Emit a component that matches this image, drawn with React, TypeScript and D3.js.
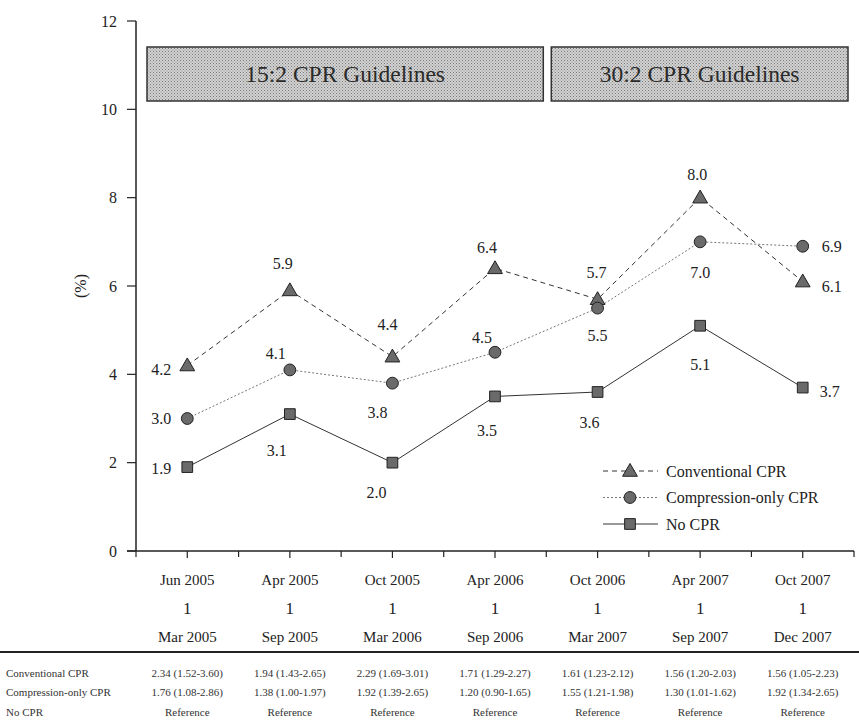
import * as d3 from "d3";

const periodStart = ["Jun 2005", "Apr 2005", "Oct 2005", "Apr 2006", "Oct 2006", "Apr 2007", "Oct 2007"];
const periodEnd = ["Mar 2005", "Sep 2005", "Mar 2006", "Sep 2006", "Mar 2007", "Sep 2007", "Dec 2007"];

const conventional = [4.2, 5.9, 4.4, 6.4, 5.7, 8.0, 6.1];
const compressionOnly = [3.0, 4.1, 3.8, 4.5, 5.5, 7.0, 6.9];
const noCpr = [1.9, 3.1, 2.0, 3.5, 3.6, 5.1, 3.7];

const yTicks = [0, 2, 4, 6, 8, 10, 12];

const guidelines = ["15:2 CPR Guidelines", "30:2 CPR Guidelines"];
const guidelineSpans = [[0, 4], [4, 7]];

const orConventional = ["2.34 (1.52-3.60)", "1.94 (1.43-2.65)", "2.29 (1.69-3.01)", "1.71 (1.29-2.27)", "1.61 (1.23-2.12)", "1.56 (1.20-2.03)", "1.56 (1.05-2.23)"];
const orCompression = ["1.76 (1.08-2.86)", "1.38 (1.00-1.97)", "1.92 (1.39-2.65)", "1.20 (0.90-1.65)", "1.55 (1.21-1.98)", "1.30 (1.01-1.62)", "1.92 (1.34-2.65)"];
const orNoCpr = ["Reference", "Reference", "Reference", "Reference", "Reference", "Reference", "Reference"];

// label offsets [dx, dy] relative to each point
const offConventional = [[-26, 4], [-7, -27], [-5, -32], [-8, -21], [-1, -27], [-3, -23], [29, 5]];
const offCompression = [[-26, 0], [-14, -17], [-15, 29], [-13, -15], [0, 27], [0, 31], [29, 0]];
const offNoCpr = [[-26, 1], [-13, 36], [-16, 30], [-8, 34], [-8, 30], [0, 39], [27, 4]];

const FONT = "'Liberation Serif', 'Times New Roman', serif";

const series = [
  { name: "Conventional CPR", values: conventional, offsets: offConventional, symbol: d3.symbolTriangle, size: 95, dash: "5,4", color: "#333" },
  { name: "Compression-only CPR", values: compressionOnly, offsets: offCompression, symbol: d3.symbolCircle, size: 110, dash: "2,2", color: "#777" },
  { name: "No CPR", values: noCpr, offsets: offNoCpr, symbol: d3.symbolSquare, size: 115, dash: null, color: "#333" },
];

export default function App() {
  const width = 859;
  const height = 728;

  const x = d3
    .scaleBand<number>()
    .domain(d3.range(periodStart.length))
    .range([136, 854]);
  const cx = (i: number) => x(i)! + x.bandwidth() / 2;

  const y = d3.scaleLinear().domain([0, 12]).range([551, 21]);

  const line = d3
    .line<number>()
    .x((_, i) => cx(i))
    .y((d) => y(d));

  const boundaries = d3.range(periodStart.length + 1).map((i) => 136 + i * x.bandwidth());

  const tableRows = [
    { label: "Conventional CPR", cells: orConventional },
    { label: "Compression-only CPR", cells: orCompression },
    { label: "No CPR", cells: orNoCpr },
  ];

  return (
    <svg
      width={width}
      height={height}
      style={{ position: "absolute", left: 0, top: 0, background: "#fff" }}
      fontFamily={FONT}
    >
      <defs>
        <pattern id="stipple" width="3" height="3" patternUnits="userSpaceOnUse">
          <rect width="3" height="3" fill="#d2d2d2" />
          <rect x="0" y="0" width="1" height="1" fill="#7a7a7a" />
          <rect x="1.5" y="1.5" width="1" height="1" fill="#8a8a8a" />
        </pattern>
      </defs>

      {/* guideline banners */}
      {guidelines.map((g, k) => {
        const [a, b] = guidelineSpans[k];
        const x0 = k === 0 ? x(a)! + 11 : x(a)! + 5;
        const x1 = k === 0 ? x(b)! - 3 : x(b - 1)! + x.bandwidth() - 6;
        return (
          <g key={g}>
            <rect x={x0} y={47} width={x1 - x0} height={54} fill="url(#stipple)" stroke="#333" strokeWidth={1.5} />
            <text x={(x0 + x1) / 2} y={82} textAnchor="middle" fontSize={23.5} fill="#2a2a2a">
              {g}
            </text>
          </g>
        );
      })}

      {/* y axis */}
      <line x1={136} x2={136} y1={y(12)} y2={y(0)} stroke="#222" strokeWidth={1.5} />
      {yTicks.map((t) => (
        <g key={t}>
          <line x1={127} x2={136} y1={y(t)} y2={y(t)} stroke="#222" strokeWidth={1.2} />
          <text x={117} y={y(t)} dy="0.35em" textAnchor="end" fontSize={16} fill="#222">
            {t}
          </text>
        </g>
      ))}
      <text transform={`translate(80,${y(6)}) rotate(-90)`} textAnchor="middle" dy="0.35em" fontSize={16} fill="#222">
        (%)
      </text>

      {/* x axis */}
      <line x1={127} x2={854} y1={y(0)} y2={y(0)} stroke="#222" strokeWidth={1.5} />
      {boundaries.map((b, i) => (
        <line key={"b" + i} x1={b} x2={b} y1={y(0)} y2={y(0) + 6} stroke="#222" strokeWidth={1.2} />
      ))}
      {periodStart.map((p, i) => (
        <g key={p + i}>
          <line x1={cx(i)} x2={cx(i)} y1={y(0)} y2={y(0) + 7} stroke="#222" strokeWidth={1.2} />
          <text x={cx(i)} y={585} textAnchor="middle" fontSize={15} fill="#222">
            {p}
          </text>
          <text x={cx(i)} y={614} textAnchor="middle" fontSize={17} fill="#222">
            1
          </text>
          <text x={cx(i)} y={642} textAnchor="middle" fontSize={15} fill="#222">
            {periodEnd[i]}
          </text>
        </g>
      ))}

      {/* series lines */}
      {series.map((s) => (
        <path
          key={s.name + "line"}
          d={line(s.values)!}
          fill="none"
          stroke={s.color}
          strokeWidth={1}
          strokeDasharray={s.dash ?? undefined}
        />
      ))}

      {/* markers + value labels */}
      {series.map((s) => (
        <g key={s.name + "pts"}>
          {s.values.map((v, i) => (
            <g key={i}>
              <path
                d={d3.symbol().type(s.symbol).size(s.size)()!}
                transform={`translate(${cx(i)},${y(v) + (s.symbol === d3.symbolTriangle ? 1 : 0)})`}
                fill="#6a6a6a"
                stroke="#222"
                strokeWidth={1}
              />
              <text
                x={cx(i) + s.offsets[i][0]}
                y={y(v) + s.offsets[i][1]}
                dy="0.35em"
                textAnchor="middle"
                fontSize={16}
                fill="#222"
              >
                {v.toFixed(1)}
              </text>
            </g>
          ))}
        </g>
      ))}

      {/* legend */}
      {series.map((s, k) => {
        const ly = 471 + k * 26.5;
        return (
          <g key={s.name + "leg"}>
            <line x1={603} x2={658} y1={ly} y2={ly} stroke={s.color} strokeWidth={1} strokeDasharray={s.dash ?? undefined} />
            <path
              d={d3.symbol().type(s.symbol).size(s.size)()!}
              transform={`translate(630,${ly + (s.symbol === d3.symbolTriangle ? 1 : 0)})`}
              fill="#6a6a6a"
              stroke="#222"
              strokeWidth={1}
            />
            <text x={666} y={ly} dy="0.35em" fontSize={16} fill="#222">
              {s.name}
            </text>
          </g>
        );
      })}

      {/* odds ratio table */}
      <line x1={0} x2={859} y1={652} y2={652} stroke="#222" strokeWidth={1.8} />
      {tableRows.map((r, k) => {
        const ry = 673 + k * 19.5;
        return (
          <g key={r.label}>
            <text x={6} y={ry} dy="0.35em" fontSize={11} fill="#333">
              {r.label}
            </text>
            {r.cells.map((c, i) => (
              <text key={i} x={cx(i)} y={ry} dy="0.35em" textAnchor="middle" fontSize={11} fill="#333">
                {c}
              </text>
            ))}
          </g>
        );
      })}
    </svg>
  );
}
